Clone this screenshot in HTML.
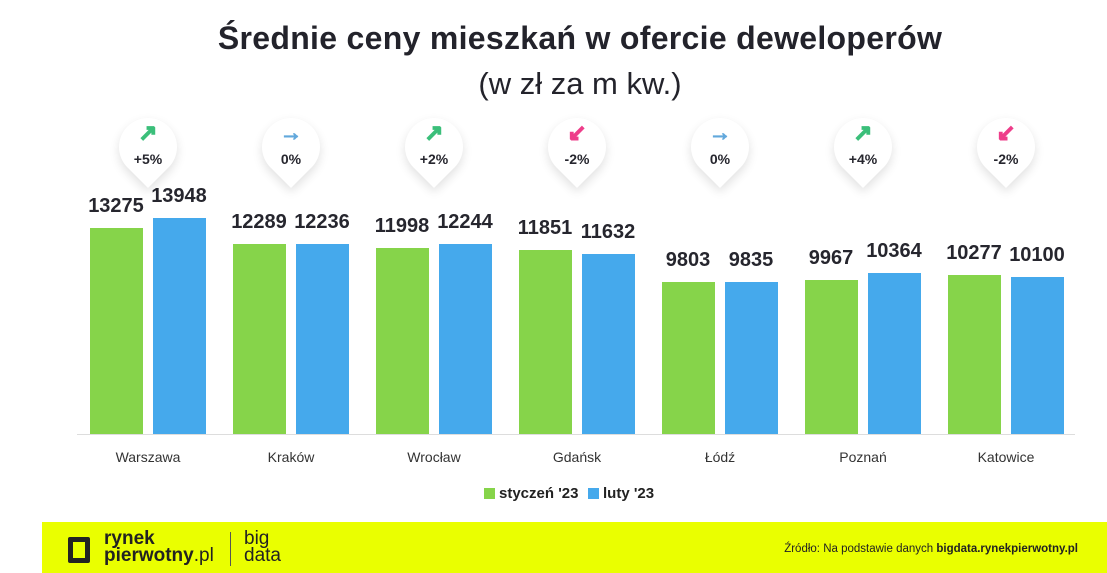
<!DOCTYPE html>
<html><head><meta charset="utf-8"><style>
body{margin:0;width:1107px;height:573px;background:#fff;position:relative;overflow:hidden;font-family:"Liberation Sans",sans-serif;color:#222}
.a{position:absolute}
.t{left:0;width:1160px;text-align:center}
.bar{position:absolute;width:53px}
.g{background:#86d44a}.b{background:#45a9ec}
.v{position:absolute;width:90px;text-align:center;font-weight:bold;font-size:20px;color:#26262e}
.c{position:absolute;width:140px;text-align:center;font-size:14px;color:#333;top:449px}
.bub{position:absolute;width:58px;height:58px;background:#fff;border-radius:50% 50% 50% 0;transform:rotate(-45deg);box-shadow:-3px 3px 10px rgba(0,0,0,0.12)}
.bt{position:absolute;width:60px;text-align:center;font-weight:bold;font-size:14px;color:#26262e}
.ar{position:absolute;width:60px;text-align:center;font-weight:bold;font-size:22px;-webkit-text-stroke:1.2px}
</style></head><body>
<div class="a t" style="top:20px;font-size:32px;font-weight:bold;color:#23232b;letter-spacing:0.3px">Średnie ceny mieszkań w ofercie deweloperów</div>
<div class="a t" style="top:66px;font-size:31px;color:#23232b">(w zł za m kw.)</div>
<div class="a" style="left:77px;top:434px;width:998px;height:1px;background:#ddd"></div>
<div id="c"></div>
<div class="a" style="left:484px;top:488px;width:11px;height:11px;background:#86d44a"></div>
<div class="a" style="left:499px;top:485px;font-weight:bold;font-size:15px">styczeń '23</div>
<div class="a" style="left:588px;top:488px;width:11px;height:11px;background:#45a9ec"></div>
<div class="a" style="left:603px;top:485px;font-weight:bold;font-size:15px">luty '23</div>
<div class="a" style="left:42px;top:522px;width:1065px;height:51px;background:#eaff00"></div>
<div class="a" style="left:68px;top:537px;width:22px;height:26px;border:5px solid #222;border-radius:2px;box-sizing:border-box"></div>
<div class="a" style="left:104px;top:530px;font-size:19px;line-height:17px;font-weight:bold;color:#222">rynek<br>pierwotny<span style="font-weight:normal">.pl</span></div>
<div class="a" style="left:230px;top:532px;width:1px;height:34px;background:#555"></div>
<div class="a" style="left:244px;top:530px;font-size:19px;line-height:17px;color:#222">big<br>data</div>
<div class="a" style="right:29px;top:543px;font-size:11.5px;color:#222">Źródło: Na podstawie danych <b>bigdata.rynekpierwotny.pl</b></div>
<script>
var d=[["Warszawa",13275,13948,"+5%","↗","#3bbf7a"],["Kraków",12289,12236,"0%","→","#62a8dc"],["Wrocław",11998,12244,"+2%","↗","#3bbf7a"],["Gdańsk",11851,11632,"-2%","↙","#ee3d8a"],["Łódź",9803,9835,"0%","→","#62a8dc"],["Poznań",9967,10364,"+4%","↗","#3bbf7a"],["Katowice",10277,10100,"-2%","↙","#ee3d8a"]];
var h="";d.forEach(function(r,i){var x=90+143*i,cx=x+58;var h1=r[1]*0.0155,h2=r[2]*0.0155;
h+='<div class="bar g" style="left:'+x+'px;top:'+(434-h1)+'px;height:'+h1+'px"></div>';
h+='<div class="bar b" style="left:'+(x+63)+'px;top:'+(434-h2)+'px;height:'+h2+'px"></div>';
h+='<div class="v" style="left:'+(x+26-45)+'px;top:'+(434-h1-33)+'px">'+r[1]+'</div>';
h+='<div class="v" style="left:'+(x+89-45)+'px;top:'+(434-h2-33)+'px">'+r[2]+'</div>';
h+='<div class="c" style="left:'+(cx-70)+'px">'+r[0]+'</div>';
h+='<div class="bub" style="left:'+(cx-29)+'px;top:118px"></div>';
h+='<div class="ar" style="left:'+(cx-30)+'px;top:120px;color:'+r[5]+'">'+r[4]+'</div>';
h+='<div class="bt" style="left:'+(cx-30)+'px;top:151px">'+r[3]+'</div>';});
document.getElementById("c").innerHTML=h;
</script>
</body></html>
